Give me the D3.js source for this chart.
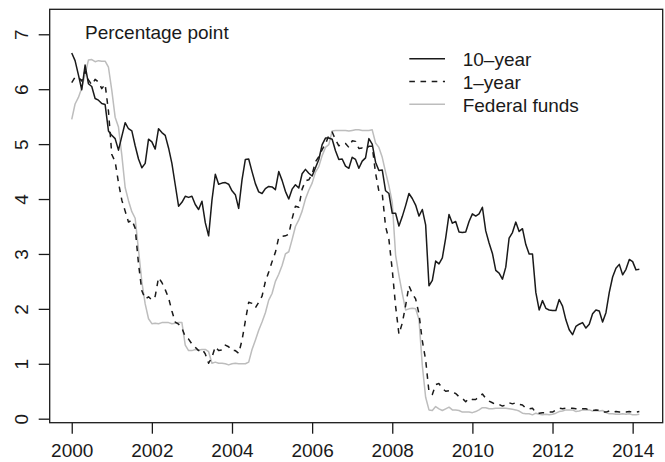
<!DOCTYPE html>
<html>
<head>
<meta charset="utf-8">
<script src="https://cdn.jsdelivr.net/npm/d3@7"></script>
<style>
  body { margin: 0; background: #fff; }
  text { font-family: "Liberation Sans", Arial, Helvetica, sans-serif; fill: #1a1a1a; }
</style>
</head>
<body>
<div id="chart"></div>
<script>
var svgWidth = 665;
var svgHeight = 462;

// monthly series, Jan 2000 - Mar 2014
var startYear = 2000;

var tenYear = [
    6.66, 6.52, 6.26, 5.99, 6.44, 6.10, 6.05, 5.83, 5.80, 5.74, 5.72, 5.24,
    5.16, 5.10, 4.89, 5.14, 5.39, 5.28, 5.24, 4.97, 4.73, 4.57, 4.65, 5.09,
    5.04, 4.91, 5.28, 5.21, 5.16, 4.93, 4.65, 4.26, 3.87, 3.94, 4.05, 4.03,
    4.05, 3.90, 3.81, 3.96, 3.57, 3.33, 3.98, 4.45, 4.27, 4.29, 4.30, 4.27,
    4.15, 4.08, 3.83, 4.35, 4.72, 4.73, 4.50, 4.28, 4.13, 4.10, 4.19, 4.23,
    4.22, 4.17, 4.50, 4.34, 4.14, 4.00, 4.18, 4.26, 4.20, 4.46, 4.54, 4.47,
    4.42, 4.57, 4.72, 4.99, 5.11, 5.11, 5.09, 4.88, 4.72, 4.73, 4.60, 4.56,
    4.76, 4.72, 4.56, 4.69, 4.75, 5.10, 5.00, 4.67, 4.52, 4.53, 4.15, 4.10,
    3.74, 3.74, 3.51, 3.68, 3.88, 4.10, 4.01, 3.89, 3.69, 3.81, 3.53, 2.42,
    2.52, 2.87, 2.82, 2.93, 3.29, 3.72, 3.56, 3.59, 3.40, 3.39, 3.40, 3.59,
    3.73, 3.69, 3.73, 3.85, 3.42, 3.20, 3.01, 2.70, 2.65, 2.54, 2.76, 3.29,
    3.39, 3.58, 3.41, 3.46, 3.17, 3.00, 3.00, 2.30, 1.98, 2.15, 2.01, 1.98,
    1.97, 1.97, 2.17, 2.05, 1.80, 1.62, 1.53, 1.68, 1.72, 1.75, 1.65, 1.72,
    1.91, 1.98, 1.96, 1.76, 1.93, 2.30, 2.58, 2.74, 2.81, 2.62, 2.72, 2.90,
    2.86, 2.71, 2.72
];

var oneYear = [
    6.12, 6.22, 6.22, 6.15, 6.33, 6.17, 6.08, 6.18, 6.13, 6.01, 6.09, 5.60,
    4.81, 4.68, 4.30, 3.98, 3.78, 3.58, 3.62, 3.47, 2.82, 2.33, 2.18, 2.22,
    2.16, 2.23, 2.57, 2.48, 2.35, 2.20, 1.96, 1.76, 1.72, 1.65, 1.49, 1.45,
    1.36, 1.30, 1.24, 1.27, 1.18, 1.01, 1.12, 1.31, 1.24, 1.25, 1.34, 1.31,
    1.24, 1.24, 1.19, 1.43, 1.78, 2.12, 2.10, 2.02, 2.12, 2.23, 2.50, 2.67,
    2.86, 3.03, 3.30, 3.32, 3.33, 3.36, 3.64, 3.87, 3.85, 4.18, 4.33, 4.35,
    4.45, 4.68, 4.77, 4.90, 5.00, 5.16, 5.22, 5.08, 4.97, 5.01, 5.01, 4.94,
    5.06, 5.05, 4.92, 4.93, 4.91, 4.96, 4.96, 4.47, 4.14, 4.10, 3.50, 3.26,
    2.71, 2.05, 1.54, 1.74, 2.06, 2.42, 2.28, 2.18, 1.91, 1.42, 1.07, 0.49,
    0.44, 0.62, 0.64, 0.55, 0.50, 0.51, 0.48, 0.46, 0.40, 0.37, 0.31, 0.37,
    0.35, 0.35, 0.40, 0.45, 0.37, 0.32, 0.29, 0.26, 0.26, 0.23, 0.25, 0.29,
    0.27, 0.29, 0.26, 0.25, 0.19, 0.18, 0.19, 0.11, 0.10, 0.11, 0.11, 0.12,
    0.12, 0.16, 0.19, 0.18, 0.19, 0.19, 0.19, 0.18, 0.18, 0.18, 0.18, 0.16,
    0.15, 0.16, 0.15, 0.12, 0.12, 0.14, 0.12, 0.13, 0.12, 0.12, 0.12, 0.13,
    0.12, 0.12, 0.13
];

var fedFunds = [
    5.45, 5.73, 5.85, 6.02, 6.27, 6.53, 6.54, 6.50, 6.52, 6.51, 6.51, 6.40,
    5.98, 5.49, 5.31, 4.80, 4.21, 3.97, 3.77, 3.65, 3.07, 2.49, 2.09, 1.82,
    1.73, 1.74, 1.73, 1.75, 1.75, 1.75, 1.73, 1.74, 1.75, 1.75, 1.34, 1.24,
    1.24, 1.26, 1.25, 1.26, 1.26, 1.22, 1.01, 1.03, 1.01, 1.01, 1.00, 0.98,
    1.00, 1.01, 1.00, 1.00, 1.00, 1.03, 1.26, 1.43, 1.61, 1.76, 1.93, 2.16,
    2.28, 2.50, 2.63, 2.79, 3.00, 3.04, 3.26, 3.50, 3.62, 3.78, 4.00, 4.16,
    4.29, 4.49, 4.59, 4.79, 4.94, 4.99, 5.24, 5.25, 5.25, 5.25, 5.25, 5.24,
    5.25, 5.26, 5.26, 5.25, 5.25, 5.25, 5.26, 5.02, 4.94, 4.76, 4.49, 4.24,
    3.94, 2.98, 2.61, 2.28, 1.98, 2.00, 2.01, 2.00, 1.81, 0.97, 0.39, 0.16,
    0.15, 0.22, 0.18, 0.15, 0.18, 0.21, 0.16, 0.16, 0.15, 0.12, 0.12, 0.12,
    0.11, 0.13, 0.16, 0.20, 0.20, 0.18, 0.18, 0.19, 0.19, 0.19, 0.19, 0.18,
    0.17, 0.16, 0.14, 0.10, 0.09, 0.09, 0.07, 0.10, 0.08, 0.07, 0.08, 0.07,
    0.08, 0.10, 0.13, 0.14, 0.16, 0.16, 0.16, 0.13, 0.14, 0.16, 0.16, 0.16,
    0.14, 0.15, 0.14, 0.15, 0.11, 0.09, 0.09, 0.08, 0.08, 0.09, 0.08, 0.09,
    0.07, 0.07, 0.08
];

var xTicks = [2000, 2002, 2004, 2006, 2008, 2010, 2012, 2014];
var yTicks = [0, 1, 2, 3, 4, 5, 6, 7];
var seriesNames = ["10\u2013year", "1\u2013year", "Federal funds"];

var box = { left: 49.7, right: 662.7, top: 9.3, bottom: 422.7 };

var svg = d3.select("#chart")
    .append("svg")
    .attr("width", svgWidth)
    .attr("height", svgHeight);

var xScale = d3.scaleLinear()
    .domain([1999.45, 2014.75])
    .range([box.left, box.right]);

var yScale = d3.scaleLinear()
    .domain([-0.073, 7.455])
    .range([box.bottom, box.top]);

var line = d3.line()
    .x((d, i) => xScale(startYear + i / 12))
    .y(d => yScale(d));

var styles = [
    { color: "#1a1a1a", dash: null, width: 1.5 },
    { color: "#1a1a1a", dash: "5.6,5.6", width: 1.5 },
    { color: "#bdbdbd", dash: null, width: 1.5 }
];

var series = [tenYear, oneYear, fedFunds];

// draw federal funds first so the black lines sit on top
[2, 1, 0].forEach(function (k) {
    svg.append("path")
        .datum(series[k])
        .attr("d", line)
        .attr("fill", "none")
        .attr("stroke", styles[k].color)
        .attr("stroke-width", styles[k].width)
        .attr("stroke-dasharray", styles[k].dash)
        .attr("stroke-linejoin", "round");
});

// axes
var bottomAxis = d3.axisBottom(xScale).tickValues(xTicks).tickSize(11).tickFormat(d3.format("d"));
var leftAxis = d3.axisLeft(yScale).tickValues(yTicks).tickSize(11);

var xAxisG = svg.append("g")
    .attr("transform", `translate(0, ${box.bottom})`)
    .call(bottomAxis);
xAxisG.select(".domain").remove();
xAxisG.selectAll("line").attr("stroke", "#1a1a1a").attr("stroke-width", 1.3);
xAxisG.selectAll("text")
    .attr("y", 34.3)
    .attr("dy", 0)
    .attr("font-size", "19px")
    .attr("font-family", null)
    .attr("fill", "#1a1a1a");

var yAxisG = svg.append("g")
    .attr("transform", `translate(${box.left}, 0)`)
    .call(leftAxis);
yAxisG.select(".domain").remove();
yAxisG.selectAll("line").attr("stroke", "#1a1a1a").attr("stroke-width", 1.3);
yAxisG.selectAll("text")
    .attr("x", 0)
    .attr("dy", 0)
    .attr("text-anchor", "middle")
    .attr("transform", "translate(-21.4, 0) rotate(-90)")
    .attr("font-size", "19px")
    .attr("font-family", null)
    .attr("fill", "#1a1a1a");

// plot box
svg.append("rect")
    .attr("x", box.left)
    .attr("y", box.top)
    .attr("width", box.right - box.left)
    .attr("height", box.bottom - box.top)
    .attr("fill", "none")
    .attr("stroke", "#1a1a1a")
    .attr("stroke-width", 1.3);

svg.append("text")
    .attr("x", 85)
    .attr("y", 38.5)
    .attr("font-size", "19px")
    .text("Percentage point");

// legend
var legend = svg.append("g");
seriesNames.forEach(function (name, k) {
    var yBase = 66 + k * 22.8;
    legend.append("line")
        .attr("x1", 409.3)
        .attr("x2", 445)
        .attr("y1", yBase - 7.3)
        .attr("y2", yBase - 7.3)
        .attr("stroke", styles[k].color)
        .attr("stroke-width", styles[k].width)
        .attr("stroke-dasharray", styles[k].dash);
    legend.append("text")
        .attr("x", 462.7)
        .attr("y", yBase)
        .attr("font-size", "19px")
        .text(name);
});
</script>
</body>
</html>
